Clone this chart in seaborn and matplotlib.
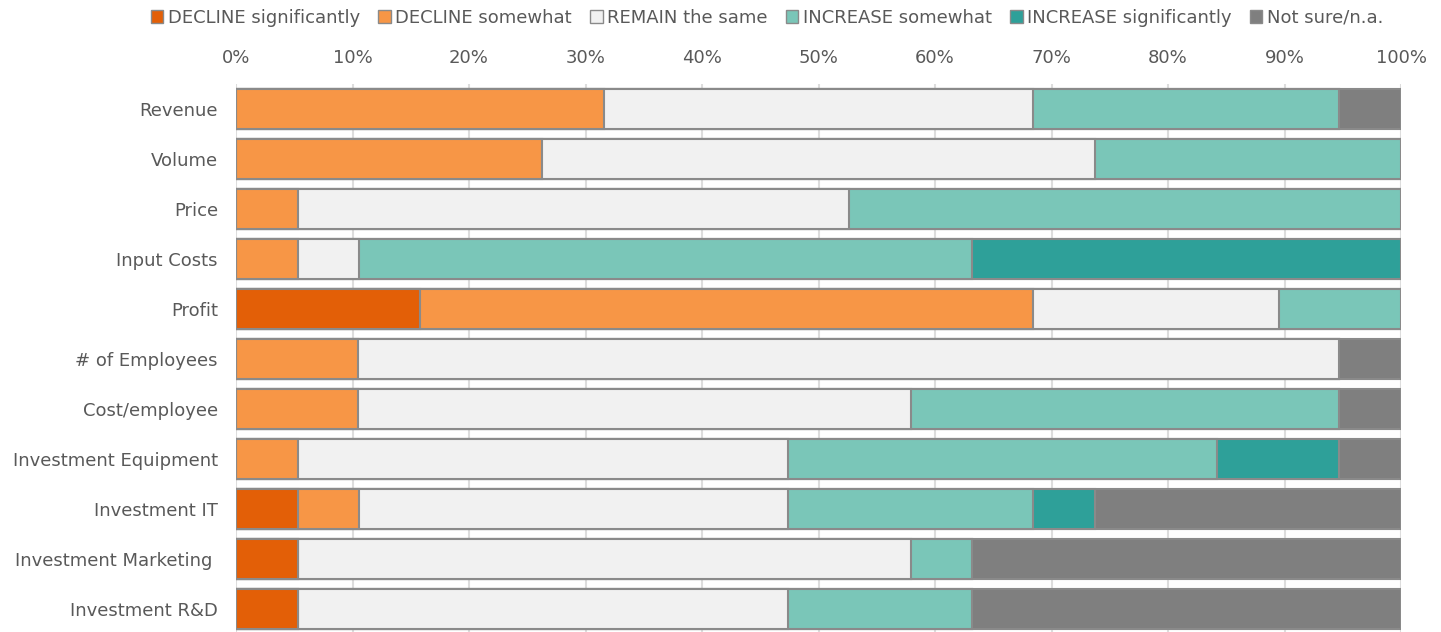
import numpy as np
import pandas as pd
import matplotlib
matplotlib.use("Agg")
import matplotlib.pyplot as plt
from matplotlib.patches import Patch
import seaborn as sns

# Survey items (rows, top to bottom)
items = ["Revenue", "Volume", "Price", "Input Costs", "Profit", "# of Employees",
         "Cost/employee", "Investment Equipment", "Investment IT",
         "Investment Marketing ", "Investment R&D"]

# Share of answers per item, in percent
decline_sig  = [0.0, 0.0, 0.0, 0.0, 15.8, 0.0, 0.0, 0.0, 5.3, 5.3, 5.3]
decline_som  = [31.6, 26.3, 5.3, 5.3, 52.6, 10.5, 10.5, 5.3, 5.3, 0.0, 0.0]
remain_same  = [36.8, 47.4, 47.4, 5.3, 21.1, 84.2, 47.4, 42.1, 36.8, 52.6, 42.1]
increase_som = [26.3, 26.3, 47.4, 52.6, 10.5, 0.0, 36.8, 36.8, 21.1, 5.3, 15.8]
increase_sig = [0.0, 0.0, 0.0, 36.8, 0.0, 0.0, 0.0, 10.5, 5.3, 0.0, 0.0]
not_sure     = [5.3, 0.0, 0.0, 0.0, 0.0, 5.3, 5.3, 5.3, 26.3, 36.8, 36.8]

series_names = ["DECLINE significantly", "DECLINE somewhat", "REMAIN the same",
                "INCREASE somewhat", "INCREASE significantly", "Not sure/n.a."]
series_vals = [decline_sig, decline_som, remain_same, increase_som, increase_sig, not_sure]
colors = ["#E35F07", "#F79646", "#F1F1F1", "#7AC6B8", "#2EA099", "#7F7F7F"]
edge = "#8A8A8A"
text_color = "#595959"

sns.set_theme(style="white")
plt.rcParams["font.family"] = ["DejaVu Sans"]

df = pd.DataFrame({name: vals for name, vals in zip(series_names, series_vals)}, index=items)
df = df.div(df.sum(axis=1), axis=0) * 100
cum = df.cumsum(axis=1)

fig = plt.figure(figsize=(14.41, 6.32), dpi=100)
ax = fig.add_axes([236 / 1441, 0.0, (1401 - 236) / 1441, 1 - 84 / 632])

# Stacked bars: paint cumulative totals from the last series back to the first
for name, color in reversed(list(zip(series_names, colors))):
    sns.barplot(x=cum[name].values, y=items, orient="h", ax=ax, color=color,
                width=0.8, edgecolor=edge, linewidth=1.5, saturation=1, zorder=3)

ax.set_xlim(0, 100)
ax.set_ylim(10.46, -0.5)
ax.set_xticks(np.arange(0, 101, 10))
ax.set_xticklabels([f"{v}%" for v in range(0, 101, 10)])
ax.xaxis.tick_top()
ax.tick_params(axis="x", length=0, pad=12, labelsize=13, labelcolor=text_color)
ax.tick_params(axis="y", length=0, pad=13, labelsize=13, labelcolor=text_color)
ax.grid(axis="x", color="#DDDDDD", linewidth=1.5, zorder=0)
ax.set_axisbelow(True)
for s in ax.spines.values():
    s.set_visible(False)
ax.set_xlabel("")
ax.set_ylabel("")

handles = [Patch(facecolor=c, edgecolor=edge, linewidth=1.0, label=n)
           for n, c in zip(series_names, colors)]
fig.legend(handles=handles, loc="center", bbox_to_anchor=(767 / 1441, 1 - 18 / 632),
           ncol=6, frameon=False, fontsize=13, labelcolor=text_color,
           handlelength=0.7, handleheight=0.7, handletextpad=0.25, columnspacing=1.0)

fig.savefig("out.png", dpi=100)
